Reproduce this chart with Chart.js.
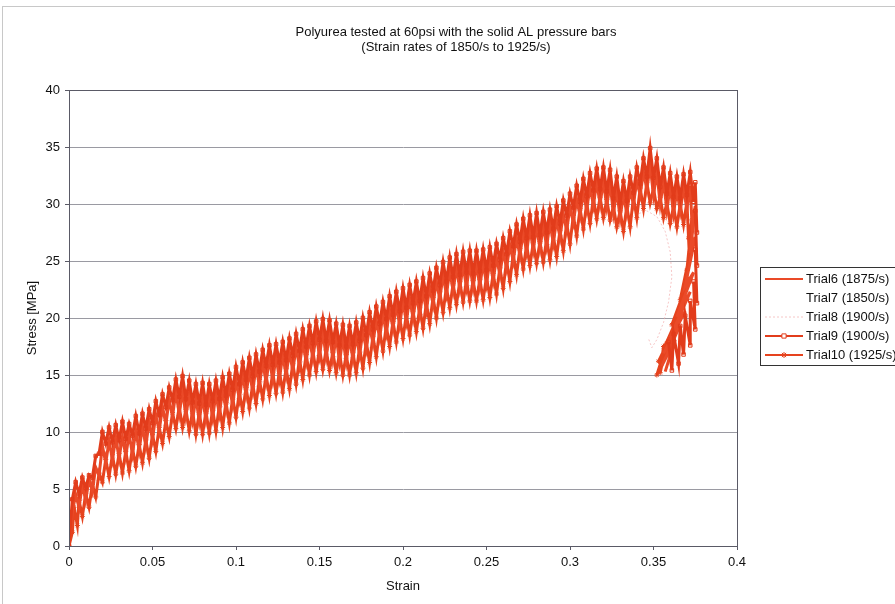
<!DOCTYPE html>
<html>
<head>
<meta charset="utf-8">
<script src="https://cdn.jsdelivr.net/npm/chart.js@4.4.1/dist/chart.umd.min.js"></script>
<style>
  body { margin: 0; background: #fff; }
  #wrap { position: relative; width: 895px; height: 604px; }
</style>
</head>
<body>
<div id="wrap"><canvas id="chart"></canvas></div>
<script>
const titleLines = ['Polyurea tested at 60psi with the solid AL pressure bars', '(Strain rates of 1850/s to 1925/s)'];
const seriesLabels = ['Trial6 (1875/s)', 'Trial7 (1850/s)', 'Trial8 (1900/s)', 'Trial9 (1900/s)', 'Trial10 (1925/s)'];
const yTicks = [0, 5, 10, 15, 20, 25, 30, 35, 40];
const xTicks = [0, 0.05, 0.1, 0.15, 0.2, 0.25, 0.3, 0.35, 0.4];

// [strain, stress MPa] (noisy traces)
const trial6 = [[0,0],[0.002,3.0],[0.004,4.5],[0.006,3.4],[0.008,5.4],[0.010,4.0],[0.012,5.9],[0.014,4.8],[0.016,6.9],[0.018,6.2],[0.020,8.8],[0.022,7.3],[0.024,9.2],[0.026,7.6],[0.028,9.5],[0.030,7.7],[0.032,9.6],[0.034,7.9],[0.036,9.8],[0.038,8.1],[0.040,10.1],[0.042,8.4],[0.044,10.5],[0.046,8.8],[0.048,10.9],[0.050,9.4],[0.052,11.5],[0.054,10.1],[0.056,12.2],[0.058,10.7],[0.060,12.8],[0.062,11.4],[0.064,13.5],[0.066,11.6],[0.068,13.6],[0.070,11.4],[0.072,13.3],[0.074,11.1],[0.076,13.0],[0.078,11.0],[0.080,13.0],[0.082,11.1],[0.084,13.1],[0.086,11.3],[0.088,13.3],[0.090,11.6],[0.092,13.6],[0.094,12.0],[0.096,14.0],[0.098,12.4],[0.100,14.5],[0.102,12.9],[0.104,15.0],[0.106,13.3],[0.108,15.3],[0.110,13.6],[0.112,15.7],[0.114,14.1],[0.116,16.1],[0.118,14.4],[0.120,16.4],[0.122,14.6],[0.124,16.6],[0.126,14.7],[0.128,16.7],[0.130,15.0],[0.132,17.0],[0.134,15.4],[0.136,17.4],[0.138,15.8],[0.140,17.8],[0.142,16.2],[0.144,18.2],[0.146,16.5],[0.148,18.5],[0.150,16.7],[0.152,18.7],[0.154,16.6],[0.156,18.6],[0.158,16.4],[0.160,18.4],[0.162,16.2],[0.164,18.2],[0.166,16.2],[0.168,18.2],[0.170,16.4],[0.172,18.4],[0.174,16.8],[0.176,18.8],[0.178,17.3],[0.180,19.3],[0.182,17.8],[0.184,19.8],[0.186,18.3],[0.188,20.3],[0.190,18.7],[0.192,20.7],[0.194,19.1],[0.196,21.1],[0.198,19.4],[0.200,21.4],[0.202,19.7],[0.204,21.7],[0.206,20.0],[0.208,22.0],[0.210,20.3],[0.212,22.3],[0.214,20.7],[0.216,22.7],[0.218,21.2],[0.220,23.2],[0.222,21.7],[0.224,23.7],[0.226,22.1],[0.228,24.1],[0.230,22.4],[0.232,24.4],[0.234,22.6],[0.236,24.6],[0.238,22.7],[0.240,24.7],[0.242,22.7],[0.244,24.7],[0.246,22.8],[0.248,24.8],[0.250,23.0],[0.252,25.0],[0.254,23.3],[0.256,25.3],[0.258,23.8],[0.260,25.8],[0.262,24.4],[0.264,26.4],[0.266,25.0],[0.268,27.0],[0.270,25.5],[0.272,27.5],[0.274,25.8],[0.276,27.8],[0.278,26.0],[0.280,28.0],[0.282,26.1],[0.284,28.1],[0.286,26.3],[0.288,28.3],[0.290,26.6],[0.292,28.6],[0.294,27.1],[0.296,29.1],[0.298,27.7],[0.300,29.7],[0.302,28.4],[0.304,30.4],[0.306,29.0],[0.308,31.0],[0.310,29.5],[0.312,31.5],[0.314,29.9],[0.316,31.9],[0.318,30.0],[0.320,32.0],[0.322,29.8],[0.324,31.8],[0.326,29.2],[0.328,31.2],[0.330,28.8],[0.332,30.8],[0.334,29.2],[0.336,31.2],[0.338,30.0],[0.340,32.0],[0.342,30.8],[0.344,32.8],[0.346,31.3],[0.348,33.3],[0.350,30.8],[0.352,32.8],[0.354,30.0],[0.356,32.0],[0.358,29.5],[0.360,31.5],[0.362,29.2],[0.364,31.2],[0.366,29.4],[0.368,31.4],[0.370,29.6],[0.372,31.6],[0.373,28.4],[0.375,29.8],[0.372,25.7],[0.375,27.1],[0.369,22.8],[0.374,24.0],[0.364,20.1],[0.372,22.3],[0.360,18.3],[0.369,20.6],[0.356,16.9],[0.366,19.4],[0.355,15.8],[0.363,18.1],[0.357,15.3],[0.361,17.2]];
const trial7 = [[0,0],[0.010,5.0],[0.030,8.8],[0.060,11.8],[0.100,13.6],[0.150,17.6],[0.200,20.4],[0.250,24.0],[0.300,28.7],[0.340,31.0],[0.365,30.4]];
const trial8 = [[0,0],[0.002,1.5],[0.004,2.8],[0.006,3.6],[0.009,4.2],[0.012,4.9],[0.015,5.4],[0.018,6.0],[0.022,6.8],[0.026,7.5],[0.030,8.1],[0.034,8.4],[0.038,8.9],[0.042,9.3],[0.046,9.6],[0.050,9.9],[0.055,10.4],[0.060,11.0],[0.065,11.5],[0.070,11.9],[0.075,11.4],[0.080,11.8],[0.085,11.6],[0.090,12.1],[0.095,12.4],[0.100,12.9],[0.106,13.5],[0.112,14.0],[0.118,14.6],[0.124,15.1],[0.130,15.4],[0.136,15.9],[0.142,16.3],[0.148,16.7],[0.154,16.9],[0.160,16.6],[0.166,16.4],[0.172,16.7],[0.178,17.2],[0.184,17.8],[0.190,18.5],[0.196,19.1],[0.202,19.6],[0.208,20.0],[0.214,20.5],[0.220,21.2],[0.226,21.8],[0.232,22.4],[0.238,22.9],[0.244,22.7],[0.250,23.1],[0.256,23.4],[0.262,24.0],[0.268,24.8],[0.274,25.5],[0.280,26.0],[0.286,26.3],[0.292,26.8],[0.298,27.5],[0.304,28.4],[0.310,29.0],[0.316,29.3],[0.322,28.9],[0.328,28.2],[0.334,28.6],[0.340,29.1],[0.346,29.4],[0.352,28.9],[0.357,27.6],[0.360,25.8],[0.361,23.6],[0.359,21.4],[0.356,19.6],[0.352,18.1],[0.349,17.4],[0.347,18.2]];
const trial9 = [[0,0],[0.002,4.1],[0.004,5.6],[0.006,4.6],[0.008,6.0],[0.010,5.1],[0.012,6.2],[0.014,6.0],[0.016,7.9],[0.018,8.1],[0.020,10.0],[0.022,9.0],[0.024,10.4],[0.026,9.1],[0.028,10.6],[0.030,9.3],[0.032,10.9],[0.034,9.4],[0.036,10.7],[0.038,9.7],[0.040,11.4],[0.042,9.9],[0.044,11.6],[0.046,10.3],[0.048,12.0],[0.050,10.8],[0.052,12.7],[0.054,11.5],[0.056,13.3],[0.058,12.2],[0.060,13.9],[0.062,12.8],[0.064,14.6],[0.066,13.1],[0.068,14.9],[0.070,12.9],[0.072,14.5],[0.074,12.6],[0.076,14.2],[0.078,12.5],[0.080,14.3],[0.082,12.4],[0.084,14.2],[0.086,12.7],[0.088,14.5],[0.090,12.9],[0.092,14.8],[0.094,13.2],[0.096,15.1],[0.098,13.7],[0.100,15.7],[0.102,14.2],[0.104,16.1],[0.106,14.6],[0.108,16.5],[0.110,14.9],[0.112,16.8],[0.114,15.3],[0.116,17.2],[0.118,15.8],[0.120,17.6],[0.122,15.9],[0.124,17.7],[0.126,16.1],[0.128,17.9],[0.130,16.3],[0.132,18.2],[0.134,16.7],[0.136,18.6],[0.138,17.1],[0.140,19.0],[0.142,17.5],[0.144,19.3],[0.146,17.8],[0.148,19.7],[0.150,18.1],[0.152,19.9],[0.154,18.0],[0.156,19.8],[0.158,17.9],[0.160,19.5],[0.162,17.6],[0.164,19.4],[0.166,17.5],[0.168,19.3],[0.170,17.7],[0.172,19.6],[0.174,18.0],[0.176,20.0],[0.178,18.5],[0.180,20.5],[0.182,19.0],[0.184,21.0],[0.186,19.5],[0.188,21.4],[0.190,19.9],[0.192,21.9],[0.194,20.3],[0.196,22.3],[0.198,20.6],[0.200,22.6],[0.202,20.9],[0.204,22.9],[0.206,21.3],[0.208,23.2],[0.210,21.5],[0.212,23.5],[0.214,21.9],[0.216,23.9],[0.218,22.4],[0.220,24.4],[0.222,22.9],[0.224,24.9],[0.226,23.2],[0.228,25.3],[0.230,23.6],[0.232,25.6],[0.234,23.8],[0.236,25.8],[0.238,24.0],[0.240,25.9],[0.242,23.9],[0.244,25.9],[0.246,24.1],[0.248,26.0],[0.250,24.2],[0.252,26.2],[0.254,24.6],[0.256,26.5],[0.258,25.1],[0.260,27.0],[0.262,25.6],[0.264,27.6],[0.266,26.3],[0.268,28.2],[0.270,26.7],[0.272,28.7],[0.274,27.0],[0.276,29.0],[0.278,27.1],[0.280,29.2],[0.282,27.3],[0.284,29.3],[0.286,27.5],[0.288,29.5],[0.290,27.8],[0.292,29.8],[0.294,28.3],[0.296,30.3],[0.298,29.0],[0.300,30.9],[0.302,29.7],[0.304,31.6],[0.306,30.2],[0.308,32.2],[0.310,30.7],[0.312,32.7],[0.314,31.2],[0.316,33.1],[0.318,31.3],[0.320,33.2],[0.322,31.1],[0.324,33.0],[0.326,30.5],[0.328,32.4],[0.330,30.1],[0.332,32.0],[0.334,30.3],[0.336,32.4],[0.338,31.0],[0.340,33.2],[0.342,31.8],[0.344,34.0],[0.346,32.4],[0.348,34.9],[0.350,32.3],[0.352,34.0],[0.354,31.5],[0.356,33.2],[0.358,30.9],[0.360,32.7],[0.362,30.6],[0.364,32.4],[0.366,30.5],[0.368,32.6],[0.370,30.8],[0.372,32.8],[0.374,30.2],[0.375,31.9],[0.376,27.5],[0.375,29.4],[0.376,24.6],[0.375,26.0],[0.376,21.3],[0.374,23.2],[0.375,19.0],[0.372,21.5],[0.372,17.6],[0.369,20.2],[0.368,16.8],[0.366,19.3],[0.365,16.0],[0.362,18.6],[0.361,15.4],[0.359,17.9]];
const trial10 = [[0,0],[0.002,1.2],[0.003,3.4],[0.005,1.8],[0.006,4.0],[0.008,2.6],[0.010,4.6],[0.012,3.4],[0.014,5.4],[0.016,4.3],[0.018,6.4],[0.020,5.6],[0.022,7.6],[0.024,6.1],[0.026,8.0],[0.028,6.3],[0.030,8.1],[0.032,6.4],[0.034,8.3],[0.036,6.6],[0.038,8.6],[0.040,7.0],[0.042,8.9],[0.044,7.3],[0.046,9.3],[0.048,7.7],[0.050,9.8],[0.052,8.3],[0.054,10.4],[0.056,9.0],[0.058,11.0],[0.060,9.6],[0.062,11.7],[0.064,10.3],[0.066,12.2],[0.068,10.4],[0.070,12.0],[0.072,10.1],[0.074,11.8],[0.076,9.8],[0.078,11.7],[0.080,9.8],[0.082,11.8],[0.084,9.9],[0.086,12.0],[0.088,10.1],[0.090,12.3],[0.092,10.4],[0.094,12.6],[0.096,10.8],[0.098,13.0],[0.100,11.3],[0.102,13.5],[0.104,11.8],[0.106,13.9],[0.108,12.1],[0.110,14.2],[0.112,12.5],[0.114,14.6],[0.116,12.9],[0.118,15.0],[0.120,13.2],[0.122,15.2],[0.124,13.4],[0.126,15.3],[0.128,13.5],[0.130,15.6],[0.132,13.8],[0.134,16.0],[0.136,14.2],[0.138,16.4],[0.140,14.6],[0.142,16.8],[0.144,15.0],[0.146,17.1],[0.148,15.3],[0.150,17.3],[0.152,15.5],[0.154,17.2],[0.156,15.4],[0.158,17.0],[0.160,15.2],[0.162,16.9],[0.164,15.0],[0.166,16.8],[0.168,15.0],[0.170,17.0],[0.172,15.2],[0.174,17.4],[0.176,15.6],[0.178,17.9],[0.180,16.1],[0.182,18.4],[0.184,16.6],[0.186,18.9],[0.188,17.1],[0.190,19.3],[0.192,17.5],[0.194,19.7],[0.196,17.9],[0.198,20.0],[0.200,18.2],[0.202,20.3],[0.204,18.5],[0.206,20.6],[0.208,18.8],[0.210,20.9],[0.212,19.1],[0.214,21.3],[0.216,19.5],[0.218,21.8],[0.220,20.0],[0.222,22.3],[0.224,20.5],[0.226,22.7],[0.228,20.9],[0.230,23.0],[0.232,21.2],[0.234,23.2],[0.236,21.4],[0.238,23.3],[0.240,21.5],[0.242,23.3],[0.244,21.5],[0.246,23.4],[0.248,21.6],[0.250,23.6],[0.252,21.8],[0.254,23.9],[0.256,22.1],[0.258,24.4],[0.260,22.6],[0.262,25.0],[0.264,23.2],[0.266,25.6],[0.268,23.8],[0.270,26.1],[0.272,24.3],[0.274,26.4],[0.276,24.6],[0.278,26.6],[0.280,24.8],[0.282,26.7],[0.284,24.9],[0.286,26.9],[0.288,25.1],[0.290,27.2],[0.292,25.4],[0.294,27.7],[0.296,25.9],[0.298,28.3],[0.300,26.5],[0.302,29.0],[0.304,27.2],[0.306,29.6],[0.308,27.8],[0.310,30.1],[0.312,28.3],[0.314,30.5],[0.316,28.7],[0.318,30.6],[0.320,28.8],[0.322,30.4],[0.324,28.6],[0.326,29.8],[0.328,28.0],[0.330,29.4],[0.332,27.6],[0.334,29.8],[0.336,28.0],[0.338,30.6],[0.340,28.8],[0.342,31.4],[0.344,29.6],[0.346,31.9],[0.348,30.1],[0.350,31.4],[0.352,29.6],[0.354,30.6],[0.356,28.8],[0.358,30.1],[0.360,28.3],[0.362,29.8],[0.364,28.0],[0.366,30.0],[0.368,28.2],[0.370,30.2],[0.371,27.0],[0.373,28.6],[0.370,24.2],[0.372,25.8],[0.366,21.6],[0.371,23.4],[0.361,19.4],[0.368,21.2],[0.357,17.6],[0.365,19.8],[0.353,16.2],[0.362,18.6],[0.352,15.0],[0.358,17.8],[0.354,15.2],[0.356,17.5]];

const FONT = 'Liberation Sans, Arial, sans-serif';

// excel style frame, title and boxed legend
const excelDecor = {
    id: 'excelDecor',
    beforeDraw(chart) {
        const ctx = chart.ctx;
        ctx.save();
        ctx.strokeStyle = '#c8c8c8';
        ctx.lineWidth = 1;
        ctx.strokeRect(2.5, 6.5, 1000, 1000);
        ctx.restore();
    },
    afterDraw(chart) {
        const ctx = chart.ctx;
        const a = chart.chartArea;
        ctx.save();
        ctx.strokeStyle = '#5a5a66';
        ctx.lineWidth = 1;
        ctx.strokeRect(Math.round(a.left) + 0.5, Math.round(a.top) + 0.5, Math.round(a.right - a.left), Math.round(a.bottom - a.top));

        ctx.fillStyle = '#111';
        ctx.font = '13px ' + FONT;
        ctx.textAlign = 'center';
        ctx.textBaseline = 'middle';
        ctx.fillText(titleLines[0], 456, 32);
        ctx.fillText(titleLines[1], 456, 47);

        // legend
        ctx.strokeStyle = '#333';
        ctx.strokeRect(760.5, 267.5, 150, 98);
        chart.data.datasets.forEach((ds, i) => {
            const y = 279 + i * 19;
            ctx.save();
            ctx.strokeStyle = ds.borderColor;
            ctx.lineWidth = Math.min(ds.borderWidth, 2);
            ctx.setLineDash(ds.borderDash || []);
            ctx.beginPath();
            ctx.moveTo(765, y);
            ctx.lineTo(803, y);
            ctx.stroke();
            ctx.restore();
            if (ds.pointRadius > 0) {
                ctx.strokeStyle = ds.pointBorderColor;
                ctx.fillStyle = ds.pointStyle === 'rect' ? '#ffffff' : ds.pointBorderColor;
                ctx.lineWidth = 1;
                Chart.helpers.drawPoint(ctx, {
                    pointStyle: ds.pointStyle,
                    radius: 3,
                    borderWidth: 1
                }, 784, y);
            }
            ctx.fillStyle = '#111';
            ctx.font = '13px ' + FONT;
            ctx.textAlign = 'left';
            ctx.fillText(ds.label, 806, y);
        });
        ctx.restore();
    }
};

new Chart(document.getElementById('chart'), {
    type: 'scatter',
    data: {
        datasets: [
            { label: seriesLabels[0], data: trial6, showLine: true, borderColor: '#ea4a28', borderWidth: 3, pointRadius: 0, order: 3 },
            { label: seriesLabels[1], data: trial7, showLine: true, borderColor: '#ffffff', borderWidth: 1, pointRadius: 0, order: 9 },
            { label: seriesLabels[2], data: trial8, showLine: true, borderColor: 'rgba(240,160,160,0.6)', borderWidth: 1, borderDash: [2, 2], pointRadius: 0, order: 5 },
            { label: seriesLabels[3], data: trial9, showLine: true, borderColor: '#e23c1b', borderWidth: 3, pointStyle: 'rect', pointRadius: 2.5, pointBorderWidth: 1, pointBorderColor: '#e23c1b', pointBackgroundColor: 'rgba(255,255,255,0)', order: 2 },
            { label: seriesLabels[4], data: trial10, showLine: true, borderColor: '#e6431e', borderWidth: 3, pointStyle: 'star', pointRadius: 2.5, pointBorderWidth: 1, pointBorderColor: '#e6431e', pointBackgroundColor: '#e6431e', order: 4 }
        ]
    },
    options: {
        responsive: true,
        maintainAspectRatio: false,
        animation: false,
        layout: { padding: { top: 90, left: 21, right: 158, bottom: 6 } },
        plugins: {
            legend: { display: false },
            title: { display: false },
            tooltip: { enabled: false }
        },
        scales: {
            x: {
                type: 'linear',
                min: 0,
                max: 0.4,
                afterBuildTicks: (scale) => { scale.ticks = xTicks.map(v => ({ value: v })); },
                afterFit: (scale) => { scale.height = 52; },
                grid: { drawOnChartArea: false, tickLength: 4, color: '#5a5a66' },
                border: { color: '#5a5a66' },
                ticks: { color: '#111', font: { size: 13, family: FONT }, padding: 5, maxRotation: 0, callback: (v) => String(v) },
                title: { display: true, text: 'Strain', color: '#111', font: { size: 13, family: FONT }, padding: { top: 3 } }
            },
            y: {
                type: 'linear',
                min: 0,
                max: 40,
                afterBuildTicks: (scale) => { scale.ticks = yTicks.map(v => ({ value: v })); },
                afterFit: (scale) => { scale.width = 48; },
                grid: { color: '#9a9aa2', tickLength: 4, tickColor: '#5a5a66' },
                border: { color: '#5a5a66' },
                ticks: { color: '#111', font: { size: 13, family: FONT }, padding: 5 },
                title: { display: true, text: 'Stress [MPa]', color: '#111', font: { size: 13, family: FONT }, padding: { bottom: 4 } }
            }
        }
    },
    plugins: [excelDecor]
});
</script>
</body>
</html>
